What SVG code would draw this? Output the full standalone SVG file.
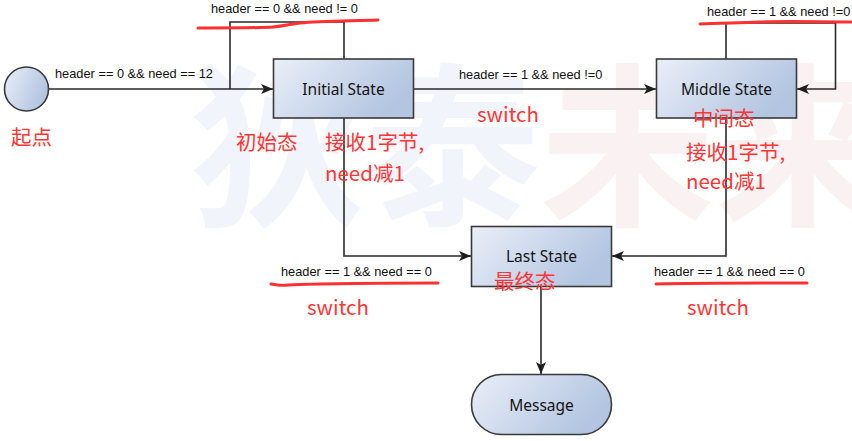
<svg xmlns="http://www.w3.org/2000/svg" width="852" height="441" viewBox="0 0 852 441">
<defs>
<linearGradient id="g" x1="0" y1="0" x2="1" y2="0.4">
<stop offset="0" stop-color="#eaeff8"/>
<stop offset="1" stop-color="#b3c5e1"/>
</linearGradient>
<marker id="arr" markerUnits="userSpaceOnUse" markerWidth="13" markerHeight="11" refX="12" refY="5" orient="auto">
<path d="M0,0 L12,5 L0,10 L3,5 z" fill="#1e1e1e"/>
</marker>
<style>
.node{fill:url(#g);stroke:#3a3a3a;stroke-width:1.6}
.nl{font-family:"Noto Sans","Open Sans",sans-serif;font-size:15.5px;fill:#151515;text-anchor:middle}
.el{font-family:"Liberation Sans",Arial,sans-serif;font-size:12.8px;fill:#111}
.con{fill:none;stroke:#2a2a2a;stroke-width:1.6}
.red{font-family:"Noto Sans CJK SC","Noto Sans",sans-serif;font-size:20.5px;fill:#ff3636}
.ul{fill:none;stroke:#ff3030;stroke-width:3;stroke-linecap:round;stroke-linejoin:round}
.wm{font-family:"Noto Sans CJK SC",sans-serif;font-size:175px;font-weight:bold}
</style>
</defs>
<rect width="852" height="441" fill="#ffffff"/>
<g id="watermark">
<text class="wm" x="190" y="212" fill="#f1f4fb">狄泰</text>
<text class="wm" x="540" y="212" fill="#faf1f3">未来</text>
</g>
<g id="connectors">
<path class="con" d="M48.5,89 H273" marker-end="url(#arr)"/>
<path class="con" d="M344,59 V22 H230 V89"/>
<path class="con" d="M414,89 H656" marker-end="url(#arr)"/>
<path class="con" d="M726,59 V23 H835.5 V89 H797" marker-end="url(#arr)"/>
<path class="con" d="M344,118 V256 H471" marker-end="url(#arr)"/>
<path class="con" d="M726,118 V256 H612" marker-end="url(#arr)"/>
<path class="con" d="M541,287 V374" marker-end="url(#arr)"/>
</g>
<g id="edge-labels">
<text class="el" x="211" y="13">header == 0 &amp;&amp; need != 0</text>
<text class="el" x="55" y="78">header == 0 &amp;&amp; need == 12</text>
<text class="el" x="459" y="79">header == 1 &amp;&amp; need !=0</text>
<text class="el" x="707" y="16">header == 1 &amp;&amp; need !=0</text>
<text class="el" x="281" y="276">header == 1 &amp;&amp; need == 0</text>
<text class="el" x="654" y="276">header == 1 &amp;&amp; need == 0</text>
</g>
<g id="start">
<circle class="node" cx="26.5" cy="89" r="22"/>
</g>
<g id="initial">
<rect class="node" x="273.5" y="59" width="140" height="59"/>
<text class="nl" x="343.5" y="95">Initial State</text>
</g>
<g id="middle">
<rect class="node" x="656.5" y="59" width="140" height="59"/>
<text class="nl" x="726.5" y="95">Middle State</text>
</g>
<g id="last">
<rect class="node" x="471.5" y="226.5" width="140" height="60"/>
<text class="nl" x="541.5" y="262">Last State</text>
</g>
<g id="message">
<rect class="node" x="471.5" y="374.5" width="140" height="60" rx="30" ry="30"/>
<text class="nl" x="541.5" y="411">Message</text>
</g>
<g id="annotations">
<path class="ul" d="M198,28 C230,28 260,28 273,27 C285,26 290,24 300,23 C320,21 350,21 378,20"/>
<path class="ul" d="M700,24 C720,23 737,23 760,22 C790,21 820,22 851,22"/>
<path class="ul" d="M271,284 C276,285 282,286 288,285 C330,283 400,283 438,283"/>
<path class="ul" d="M656,284 C700,283 760,283 807,283"/>
<text class="red" x="11" y="145">起点</text>
<text class="red" x="236" y="150">初始态</text>
<text class="red" x="325" y="150">接收1字节,</text>
<text class="red" x="325" y="181">need减1</text>
<text class="red" x="477" y="122">switch</text>
<text class="red" x="693" y="126">中间态</text>
<text class="red" x="686" y="160">接收1字节,</text>
<text class="red" x="686" y="189">need减1</text>
<text class="red" x="494" y="289">最终态</text>
<text class="red" x="307" y="315">switch</text>
<text class="red" x="687" y="315">switch</text>
</g>
</svg>
